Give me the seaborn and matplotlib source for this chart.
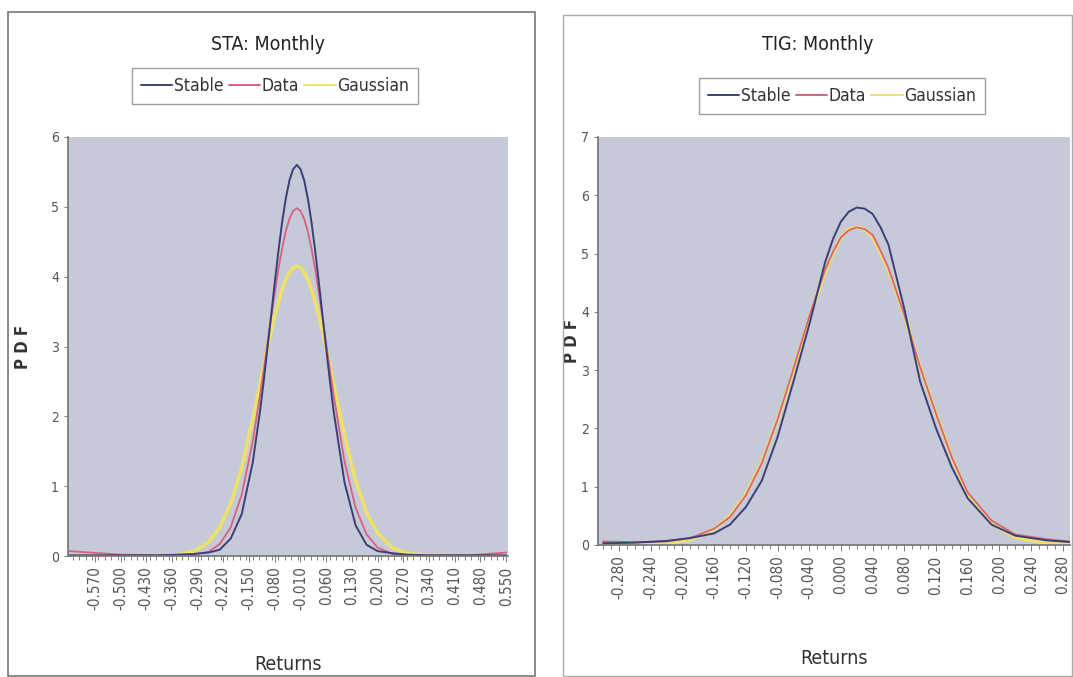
import numpy as np
import pandas as pd
import matplotlib
matplotlib.use("Agg")
import matplotlib.pyplot as plt
import seaborn as sns
from matplotlib.patches import Rectangle
from matplotlib.ticker import MultipleLocator

# STA monthly: returns grid and densities
sta_x = [-0.64, -0.50, -0.40, -0.34, -0.30, -0.26, -0.23, -0.20, -0.17, -0.14,
         -0.12, -0.11, -0.10, -0.09, -0.08, -0.07, -0.06, -0.05, -0.04, -0.03,
         -0.02, -0.01, 0.00, 0.01, 0.02, 0.03, 0.04, 0.05, 0.06, 0.07,
         0.08, 0.11, 0.14, 0.17, 0.20, 0.24, 0.28, 0.34, 0.45, 0.55]
sta_stable = [0.01, 0.01, 0.01, 0.02, 0.03, 0.05, 0.09, 0.25, 0.60, 1.34,
              2.08, 2.51, 2.97, 3.44, 3.92, 4.37, 4.78, 5.12, 5.38, 5.54,
              5.60, 5.54, 5.38, 5.12, 4.78, 4.37, 3.92, 3.44, 2.97, 2.51,
              2.08, 1.05, 0.44, 0.16, 0.07, 0.04, 0.02, 0.01, 0.01, 0.01]
sta_data = [0.07, 0.02, 0.01, 0.01, 0.02, 0.06, 0.17, 0.41, 0.88, 1.64,
            2.31, 2.67, 3.04, 3.42, 3.77, 4.11, 4.40, 4.65, 4.83, 4.94,
            4.98, 4.94, 4.83, 4.65, 4.40, 4.11, 3.77, 3.42, 3.04, 2.67,
            2.31, 1.35, 0.69, 0.31, 0.12, 0.03, 0.01, 0.01, 0.01, 0.05]
sta_gauss = [0.00, 0.00, 0.00, 0.02, 0.07, 0.20, 0.41, 0.75, 1.26, 1.96,
             2.47, 2.72, 2.98, 3.22, 3.44, 3.64, 3.82, 3.96, 4.06, 4.13,
             4.15, 4.13, 4.06, 3.96, 3.82, 3.64, 3.44, 3.22, 2.98, 2.72,
             2.47, 1.72, 1.08, 0.62, 0.33, 0.12, 0.04, 0.01, 0.00, 0.00]
sta_ticks = [-0.57, -0.50, -0.43, -0.36, -0.29, -0.22, -0.15, -0.08, -0.01,
             0.06, 0.13, 0.20, 0.27, 0.34, 0.41, 0.48, 0.55]
sta_labels = ["-0.570", "-0.500", "-0.430", "-0.360", "-0.290", "-0.220",
              "-0.150", "-0.080", "-0.010", "0.060", "0.130", "0.200",
              "0.270", "0.340", "0.410", "0.480", "0.550"]

# TIG monthly
tig_x = [-0.30, -0.26, -0.22, -0.19, -0.16, -0.14, -0.12, -0.10, -0.08, -0.06,
         -0.04, -0.02, -0.01, 0.00, 0.01, 0.02, 0.03, 0.04, 0.05, 0.06,
         0.08, 0.10, 0.12, 0.14, 0.16, 0.19, 0.22, 0.26, 0.29]
tig_stable = [0.03, 0.04, 0.07, 0.12, 0.20, 0.35, 0.65, 1.10, 1.85, 2.80,
              3.78, 4.85, 5.25, 5.55, 5.72, 5.79, 5.77, 5.68, 5.45, 5.15,
              4.05, 2.80, 2.00, 1.33, 0.80, 0.35, 0.16, 0.08, 0.05]
tig_data = [0.06, 0.05, 0.06, 0.12, 0.28, 0.48, 0.85, 1.40, 2.15, 3.02,
            3.92, 4.72, 5.03, 5.28, 5.40, 5.45, 5.42, 5.32, 5.05, 4.75,
            3.95, 3.05, 2.25, 1.50, 0.90, 0.42, 0.18, 0.10, 0.06]
tig_gauss = [0.00, 0.00, 0.03, 0.09, 0.27, 0.50, 0.87, 1.42, 2.14, 3.00,
             3.90, 4.69, 5.01, 5.28, 5.42, 5.45, 5.42, 5.28, 5.01, 4.72,
             3.95, 3.05, 2.25, 1.50, 0.87, 0.37, 0.13, 0.03, 0.01]
tig_ticks = [-0.28, -0.24, -0.20, -0.16, -0.12, -0.08, -0.04, 0.00,
             0.04, 0.08, 0.12, 0.16, 0.20, 0.24, 0.28]
tig_labels = ["-0.280", "-0.240", "-0.200", "-0.160", "-0.120", "-0.080",
              "-0.040", "0.000", "0.040", "0.080", "0.120", "0.160",
              "0.200", "0.240", "0.280"]

series_names = ["Stable", "Data", "Gaussian"]
colors = {"Stable": "#3b3f78", "Data": "#d9607e", "Gaussian": "#ece26a"}
widths = {"Stable": 1.4, "Data": 1.3, "Gaussian": 2.6}
order_draw = ["Gaussian", "Data", "Stable"]


def long_df(x, stable, data, gauss):
    frames = []
    for name, vals in zip(series_names, [stable, data, gauss]):
        frames.append(pd.DataFrame({"Returns": x, "PDF": vals, "Series": name}))
    return pd.concat(frames, ignore_index=True)


sns.set_theme(style="ticks")
plt.rcParams["font.family"] = ["DejaVu Sans"]
plt.rcParams["font.stretch"] = "condensed"

fig = plt.figure(figsize=(10.73, 6.77), dpi=100)
W, H = 1073, 677


def draw_panel(rect, df, title, xlim, ymax, ticks, labels, minor, title_pos, leg_center, ylpad, xlpad):
    ax = fig.add_axes(rect)
    ax.set_facecolor("#c6c9d8")
    for name in order_draw:
        sub = df[df["Series"] == name]
        sns.lineplot(data=sub, x="Returns", y="PDF", color=colors[name],
                     lw=widths[name], ax=ax, legend=False)
    ax.set_xlim(*xlim)
    ax.set_ylim(0, ymax)
    ax.set_yticks(range(0, ymax + 1))
    ax.set_xticks(ticks)
    ax.set_xticklabels(labels)
    ax.xaxis.set_minor_locator(MultipleLocator(minor))
    ax.tick_params(axis="x", rotation=90, labelsize=11, length=4, width=0.6, color="#666666")
    ax.tick_params(axis="x", which="minor", length=3, width=0.6, color="#666666")
    ax.tick_params(axis="y", labelsize=10, length=3, width=0.6, color="#666666")
    for lab in ax.get_xticklabels() + ax.get_yticklabels():
        lab.set_color("#555555")
    for s in ["top", "right"]:
        ax.spines[s].set_visible(False)
    ax.spines["left"].set_color("#777777")
    ax.spines["bottom"].set_color("#777777")
    ax.set_xlabel("Returns", fontsize=14, color="#333333", labelpad=xlpad)
    ax.set_ylabel("P D F", fontsize=12, color="#333333", fontweight="bold", labelpad=ylpad)
    fig.text(title_pos[0] / W, 1 - title_pos[1] / H, title, ha="center", va="center",
             fontsize=14, color="#222222")
    handles = [plt.Line2D([], [], color=colors[n], lw=1.4) for n in series_names]
    fig.legend(handles, series_names, loc="center",
               bbox_to_anchor=(leg_center[0] / W, 1 - leg_center[1] / H),
               ncol=3, frameon=True, fancybox=False, edgecolor="#888888",
               fontsize=12.5, handlelength=1.8, handletextpad=0.1,
               columnspacing=0.3, borderpad=0.5, labelcolor="#333333")
    return ax


sta = long_df(sta_x, sta_stable, sta_data, sta_gauss)
tig = long_df(tig_x, tig_stable, tig_data, tig_gauss)

draw_panel([68 / W, 1 - 556 / H, (508 - 68) / W, (556 - 137) / H], sta,
           "STA: Monthly", (-0.643, 0.555), 6, sta_ticks, sta_labels, 0.0175,
           (268, 45), (275, 86), 14, 32)
draw_panel([598 / W, 1 - 545 / H, (1070 - 598) / W, (545 - 137) / H], tig,
           "TIG: Monthly", (-0.3065, 0.289), 7, tig_ticks, tig_labels, 0.01,
           (818, 45), (842, 96), 0, 36)

# panel frames
fig.add_artist(Rectangle((8 / W, 1 - 676 / H), (535 - 8) / W, (676 - 12) / H,
                         transform=fig.transFigure, fill=False, ec="#777777", lw=1.2))
fig.add_artist(Rectangle((563 / W, 1 - 676 / H), (1072 - 563) / W, (676 - 15) / H,
                         transform=fig.transFigure, fill=False, ec="#aaaaaa", lw=1.0))

fig.savefig("out.png", dpi=100, facecolor="white")
